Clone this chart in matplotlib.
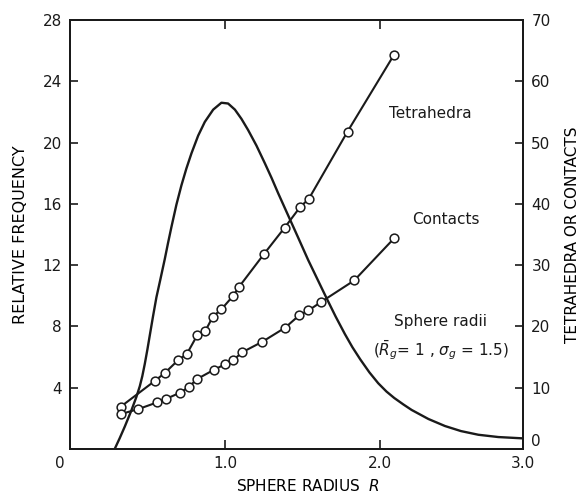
import matplotlib
matplotlib.use("Agg")
import matplotlib.pyplot as plt

# Sphere radii distribution (relative frequency, left axis)
radius_curve = [0.288, 0.321, 0.353, 0.395, 0.428, 0.450, 0.466, 0.482, 0.499, 0.514,
                0.535, 0.557, 0.581, 0.611, 0.632, 0.654, 0.686, 0.718, 0.750, 0.783,
                0.826, 0.869, 0.923, 0.976, 1.019, 1.063, 1.105, 1.148, 1.202, 1.256,
                1.299, 1.342, 1.374, 1.406, 1.471, 1.535, 1.594, 1.654, 1.712, 1.772,
                1.820, 1.871, 1.930, 1.987, 2.040, 2.090, 2.150, 2.202, 2.310, 2.417,
                2.520, 2.632, 2.761, 2.908]
freq_curve = [0.0, 0.72, 1.46, 2.50, 3.40, 4.10, 4.75, 5.55, 6.50, 7.40,
              8.65, 9.90, 11.0, 12.4, 13.45, 14.5, 15.95, 17.2, 18.3, 19.3,
              20.45, 21.35, 22.15, 22.6, 22.55, 22.15, 21.55, 20.82, 19.8, 18.65,
              17.7, 16.69, 15.97, 15.25, 13.79, 12.34, 11.1, 9.84, 8.65, 7.5,
              6.65, 5.85, 5.0, 4.29, 3.75, 3.33, 2.9, 2.55, 1.96, 1.5,
              1.17, 0.93, 0.78, 0.70]

# Tetrahedra per sphere (right axis)
tetra_r = [0.327, 0.546, 0.611, 0.697, 0.753, 0.821, 0.873, 0.921, 0.976, 1.052,
           1.088, 1.250, 1.383, 1.484, 1.539, 1.789, 2.088]
tetra_n = [6.9, 11.1, 12.4, 14.5, 15.5, 18.6, 19.3, 21.6, 22.8, 25.0,
           26.4, 31.8, 36.1, 39.5, 40.8, 51.8, 64.3]

# Contacts per sphere (right axis)
contact_r = [0.327, 0.439, 0.561, 0.621, 0.711, 0.765, 0.818, 0.926, 0.998, 1.052,
             1.111, 1.240, 1.387, 1.477, 1.537, 1.619, 1.832, 2.090]
contact_n = [5.7, 6.5, 7.6, 8.2, 9.2, 10.1, 11.4, 12.9, 13.8, 14.5,
             15.8, 17.5, 19.8, 21.8, 22.6, 24.0, 27.5, 34.4]

left_ticks = [4, 8, 12, 16, 20, 24, 28]
right_ticks = [0, 10, 20, 30, 40, 50, 60, 70]
x_ticks = [1.0, 2.0]

ink = "#1a1a1a"
plt.rcParams["font.family"] = "DejaVu Sans"
plt.rcParams["text.color"] = ink
plt.rcParams["mathtext.fontset"] = "dejavusans"

fig = plt.figure(figsize=(5.79, 4.95), dpi=100)
ax = fig.add_axes([70 / 579, 46 / 495, 453 / 579, 429 / 495])
ax2 = ax.twinx()

ax.plot(radius_curve, freq_curve, color=ink, lw=1.7, zorder=3)

marker_style = dict(marker="o", markersize=6.3, markerfacecolor="white",
                    markeredgecolor=ink, markeredgewidth=1.1, color=ink, lw=1.5)
ax2.plot(tetra_r, tetra_n, **marker_style)
ax2.plot(contact_r, contact_n, **marker_style)

ax.set_xlim(0, 2.92)
ax.set_ylim(0, 28)
ax2.set_ylim(0, 70)

ax.set_xticks(x_ticks)
ax.set_xticklabels(["1.0", "2.0"])
ax.set_yticks(left_ticks)
ax2.set_yticks(right_ticks)

for a in (ax, ax2):
    for s in a.spines.values():
        s.set_linewidth(1.4)
        s.set_color(ink)
ax.tick_params(axis="x", direction="in", top=True, length=6.5, width=1.2,
               labelsize=11, pad=5, colors=ink)
ax.tick_params(axis="y", direction="in", length=6, width=1.2,
               labelsize=11, pad=6, colors=ink)
ax2.tick_params(axis="y", direction="in", length=6, width=1.2,
                labelsize=11, pad=6, colors=ink)
# lift the right-hand "0" a little off the corner
ax2.get_yticklabels()[0].set_va("bottom")

# corner labels of the x axis
ax.annotate("0", xy=(0, 0), xycoords="axes fraction", xytext=(-10, -14),
            textcoords="offset pixels", ha="center", va="center", fontsize=11)
ax.annotate("3.0", xy=(1, 0), xycoords="axes fraction", xytext=(0, -14),
            textcoords="offset pixels", ha="center", va="center", fontsize=11)

ax.set_xlabel("SPHERE RADIUS  $R$", fontsize=11)
ax.xaxis.set_label_coords(0.525, -0.067)
ax.set_ylabel("RELATIVE FREQUENCY", fontsize=11.5, labelpad=10)
ax2.set_ylabel("TETRAHEDRA OR CONTACTS", fontsize=11, labelpad=10)

ax2.text(2.32, 54.8, "Tetrahedra", fontsize=11, ha="center", va="center")
ax2.text(2.42, 37.4, "Contacts", fontsize=11, ha="center", va="center")
ax2.text(2.39, 20.8, "Sphere radii", fontsize=11, ha="center", va="center")
ax2.text(2.39, 16.2, r"($\bar{R}_g$= 1 , $\sigma_g$ = 1.5)", fontsize=11,
         ha="center", va="center")

fig.savefig("out.png", dpi=100)
